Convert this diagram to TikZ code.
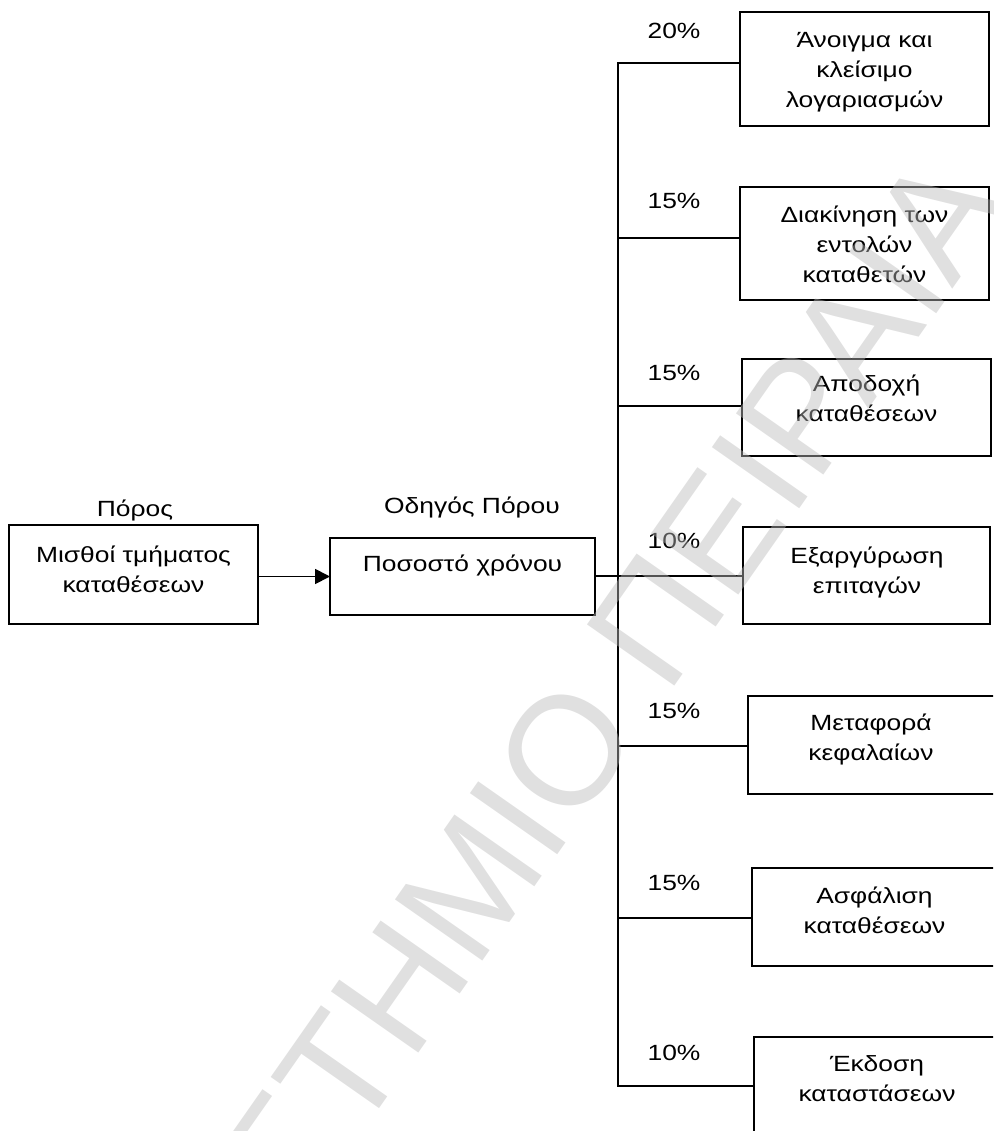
\documentclass[tikz,border=0pt]{standalone}
\usepackage{fontspec}
\setmainfont{Liberation Sans}[FakeStretch=1.2]
\newfontfamily\wmfont{Liberation Sans}
\usetikzlibrary{arrows.meta}
\begin{document}
\begin{tikzpicture}[x=1pt,y=-1pt,
  box/.style={draw, line width=2pt, inner sep=0pt, outer sep=0pt, anchor=north west},
  txt/.style={inner sep=0pt, anchor=base, align=center, font=\fontsize{22}{30}\selectfont},
  link/.style={line width=1.8pt},
  wm/.style={inner sep=0pt, rotate=55, text=black!27, text opacity=0.45,
             font=\wmfont\fontsize{155}{160}\selectfont}
]
\useasboundingbox (0,0) rectangle (993,1131);
\clip (0,0) rectangle (993,1131);

% left side: resource and driver
\node[box, minimum width=249pt, minimum height=99pt] (l1) at (9,525) {};
\node[box, minimum width=265pt, minimum height=77pt] (l2) at (330,538) {};
\node[txt] (h1) at (135,516) {Πόρος};
\node[txt] (h2) at (472,513) {Οδηγός Πόρου};
% multi-line texts are placed by the baseline of their last line
\node[txt] (tl1) at (133.5,592) {Μισθοί τμήματος\\καταθέσεων};
\node[txt] (tl2) at (462.5,571) {Ποσοστό χρόνου};

% right side: activities
\node[box, minimum width=249pt, minimum height=114pt] (r1) at (740,12) {};
\node[box, minimum width=249pt, minimum height=113pt] (r2) at (740,187) {};
\node[box, minimum width=249pt, minimum height=97pt]  (r3) at (742,359) {};
\node[box, minimum width=247pt, minimum height=97pt]  (r4) at (743,527) {};
\node[box, minimum width=248pt, minimum height=98pt]  (r5) at (748,696) {};
\node[box, minimum width=245pt, minimum height=98pt]  (r6) at (752,868) {};
\node[box, minimum width=246pt, minimum height=98pt]  (r7) at (754,1037) {};

\node[txt] (tr1) at (864.5,108)  {Άνοιγμα και\\κλείσιμο\\λογαριασμών};
\node[txt] (tr2) at (864.5,283)  {Διακίνηση των\\εντολών\\καταθετών};
\node[txt] (tr3) at (866.5,421.5){Αποδοχή\\καταθέσεων};
\node[txt] (tr4) at (867,593)    {Εξαργύρωση\\επιταγών};
\node[txt] (tr5) at (871,760)    {Μεταφορά\\κεφαλαίων};
\node[txt] (tr6) at (874.5,933)  {Ασφάλιση\\καταθέσεων};
\node[txt] (tr7) at (877,1101.5) {Έκδοση\\καταστάσεων};

% percentages
\node[txt] (p1) at (674,39)   {20\%};
\node[txt] (p2) at (674,209)  {15\%};
\node[txt] (p3) at (674,380)  {15\%};
\node[txt] (p4) at (674,548)  {10\%};
\node[txt] (p5) at (674,718)  {15\%};
\node[txt] (p6) at (674,890)  {15\%};
\node[txt] (p7) at (674,1060) {10\%};

% junctions on the distribution bus
\coordinate (j1) at (618,63);
\coordinate (j2) at (618,238);
\coordinate (j3) at (618,406);
\coordinate (j4) at (618,576);
\coordinate (j5) at (618,746);
\coordinate (j6) at (618,918);
\coordinate (j7) at (618,1086);

% connectors
\draw[link, -{Triangle[length=15pt,width=15pt]}] (l1.east |- l2.west) -- (l2.west);
\draw[link] (j1 -| r1.west) -- (j1) -- (j7) -- (j7 -| r7.west);
\draw[link] (j2) -- (j2 -| r2.west);
\draw[link] (j3) -- (j3 -| r3.west);
\draw[link] (l2.east |- j4) -- (j4 -| r4.west);
\draw[link] (j5) -- (j5 -| r5.west);
\draw[link] (j6) -- (j6 -| r6.west);

% watermark
\coordinate (wmp) at (356.6,1141.3);
\node[wm, anchor=base east] (wm1) at (wmp) {ΠΑΝΕΠΙΣ};
\node[wm, anchor=base west] (wm2) at (wmp) {ΤΗΜΙΟ ΠΕΙΡΑΙΑ};
\end{tikzpicture}
\end{document}
